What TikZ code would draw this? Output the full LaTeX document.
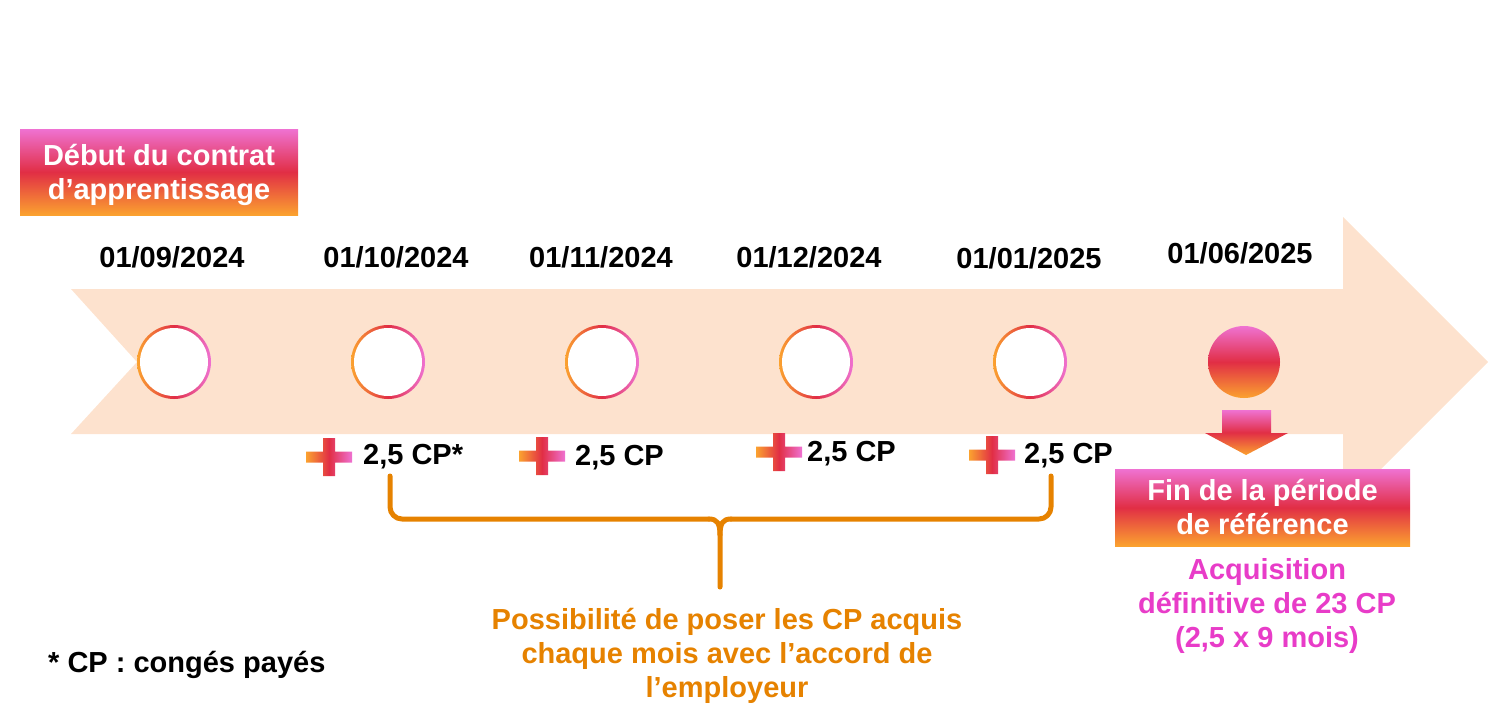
\documentclass[tikz,border=0pt]{standalone}
\usepackage{fontspec}
\setmainfont{Liberation Sans}
\definecolor{gP}{HTML}{EF72D2}
\definecolor{gR}{HTML}{E12E45}
\definecolor{gO}{HTML}{FBA22F}
\definecolor{peach}{HTML}{FDE2CE}
\definecolor{brOrange}{HTML}{E68200}
\definecolor{txPink}{HTML}{E83CC8}
\tikzset{
  vgrad/.style={top color=gP, bottom color=gO, middle color=gR},
  hgrad/.style={left color=gO, right color=gP, middle color=gR},
  gbox/.style={vgrad, draw=none, inner sep=0pt, text=white, align=center},
  ring/.style={circle, inner sep=0pt, minimum size=74pt, hgrad,
    path picture={\fill[white] (path picture bounding box.center) circle (34pt);}},
  datelbl/.style={anchor=base, inner sep=0pt},
  cplbl/.style={anchor=base west, inner sep=0pt},
  bracestyle/.style={draw=brOrange, line width=5pt, line cap=round, line join=round},
  plussign/.pic={\shade[hgrad] (-23,-5.5) rectangle (23,5.5) (-6,-19) rectangle (6,19);}
}
\begin{document}
\begin{tikzpicture}[x=1pt,y=-1pt, font=\bfseries\fontsize{29}{34}\selectfont]
\useasboundingbox (0,0) rectangle (1488,724);
% big arrow
\fill[peach] (71,289) -- (1343,289) -- (1343,217) -- (1488,362) -- (1343,507) -- (1343,434) -- (71,434) -- (137,362) -- cycle;
% start box
\node[gbox, minimum width=278pt, minimum height=86pt] (start) at (159,172) {};
\node[anchor=base, inner sep=0pt, align=center, text=white] (starttxt) at (159,199) {Début du contrat\\d’apprentissage};
% dates
\node[datelbl] (d1) at (172,267) {01/09/2024};
\node[datelbl] (d2) at (396,267) {01/10/2024};
\node[datelbl] (d3) at (601,267) {01/11/2024};
\node[datelbl] (d4) at (809,267) {01/12/2024};
\node[datelbl] (d5) at (1029,268) {01/01/2025};
\node[datelbl] (d6) at (1240,263) {01/06/2025};
% rings
\node[ring] (c1) at (174,362) {};
\node[ring] (c2) at (388,362) {};
\node[ring] (c3) at (602,362) {};
\node[ring] (c4) at (816,362) {};
\node[ring] (c5) at (1030,362) {};
% final dot
\node[circle, inner sep=0pt, minimum size=72pt, vgrad] (c6) at (1244,362) {};
% down arrow
\shade[vgrad] (1222,410) -- (1271,410) -- (1271,433) -- (1288,433) -- (1246,455) -- (1205,433) -- (1222,433) -- cycle;
% end box
\node[gbox, minimum width=295pt, minimum height=77pt] (end) at (1262.5,507.5) {};
\node[anchor=base, inner sep=0pt, align=center, text=white] (endtxt) at (1262.5,534) {Fin de la période\\de référence};
% plus signs and labels
\pic (p1) at (329,457) {plussign};
\pic (p2) at (542,456) {plussign};
\pic (p3) at (779,452) {plussign};
\pic (p4) at (992,455) {plussign};
\node[cplbl] (l1) at (363,464) {2,5 CP*};
\node[cplbl] (l2) at (575,465) {2,5 CP};
\node[cplbl] (l3) at (807,461) {2,5 CP};
\node[cplbl] (l4) at (1024,463) {2,5 CP};
% brace
\coordinate (bl) at (390,476);
\coordinate (br) at (1051,476);
\coordinate (bm) at (720,587);
\draw[bracestyle, rounded corners=12pt] (bl) |- (709,519);
\draw[bracestyle] (709,519) .. controls (717,519) and (720,523) .. (720,535) -- (bm);
\draw[bracestyle, rounded corners=12pt] (br) |- (731,519);
\draw[bracestyle] (731,519) .. controls (723,519) and (720,523) .. (720,535);
% texts
\node[anchor=base, inner sep=0pt, align=center, text=brOrange] (poss) at (727,697) {Possibilité de poser les CP acquis\\chaque mois avec l’accord de\\l’employeur};
\node[anchor=base, inner sep=0pt, align=center, text=txPink] (acq) at (1267,647) {Acquisition\\définitive de 23 CP\\(2,5 x 9 mois)};
\node[anchor=base west, inner sep=0pt] (note) at (48,672) {* CP : congés payés};
\end{tikzpicture}
\end{document}
